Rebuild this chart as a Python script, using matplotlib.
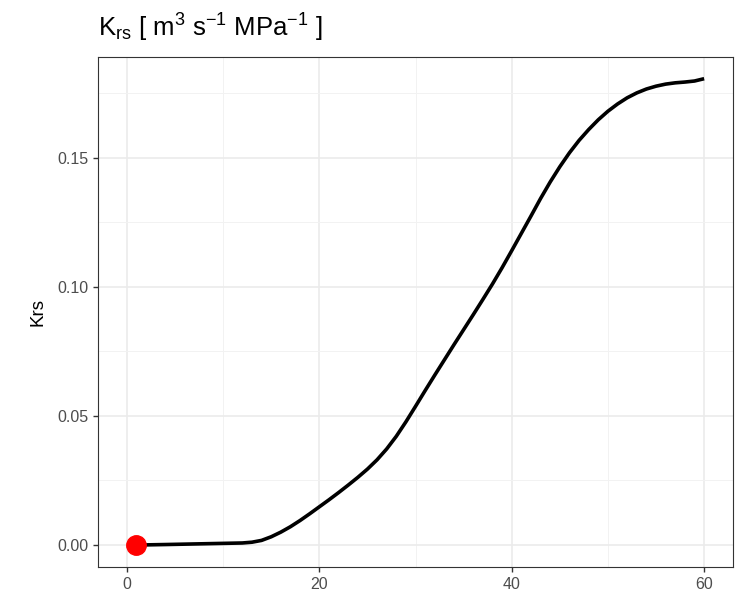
import matplotlib
matplotlib.use("Agg")
import matplotlib.pyplot as plt
from matplotlib.ticker import MultipleLocator

plt.rcParams['font.family'] = ['Liberation Sans', 'DejaVu Sans']
plt.rcParams['mathtext.fontset'] = 'custom'
plt.rcParams['mathtext.rm'] = 'Liberation Sans'
plt.rcParams['mathtext.it'] = 'Liberation Sans:italic'

# time (days) and root system conductance
time = [1, 4, 8, 12, 13, 14, 15, 16, 17, 18, 19, 20, 21, 22, 23, 24, 25, 26,
        27, 28, 29, 30, 31, 32, 33, 34, 35, 36, 37, 38, 39, 40, 41, 42, 43,
        44, 45, 46, 47, 48, 49, 50, 51, 52, 53, 54, 55, 56, 57, 58, 59, 60]
krs = [0.0, 0.0002, 0.0005, 0.0008, 0.0011, 0.0018, 0.0032, 0.0050, 0.0071,
       0.0095, 0.0121, 0.0148, 0.0175, 0.0203, 0.0232, 0.0262, 0.0294,
       0.0330, 0.0372, 0.0421, 0.0477, 0.0537, 0.0598, 0.0658, 0.0717,
       0.0776, 0.0834, 0.0892, 0.0951, 0.1011, 0.1074, 0.1140, 0.1207,
       0.1274, 0.1342, 0.1406, 0.1465, 0.1519, 0.1567, 0.1609, 0.1647,
       0.1680, 0.1708, 0.1732, 0.1751, 0.1766, 0.1777, 0.1785, 0.1790,
       0.1793, 0.1797, 0.1806]
start_point = (time[0], krs[0])

fig = plt.figure(figsize=(7.45, 5.93), dpi=100)
ax = fig.add_axes([98 / 745, 1 - 567 / 593, (733 - 98) / 745, (567 - 57) / 593])

ax.plot(time, krs, color="black", linewidth=2.6, zorder=3,
        solid_capstyle="butt", solid_joinstyle="round")
ax.plot(*start_point, "o", color="red", markersize=14, zorder=4)

ax.set_xlim(-3, 63)
ax.set_ylim(-0.0085, 0.189)
ax.xaxis.set_major_locator(MultipleLocator(20))
ax.xaxis.set_minor_locator(MultipleLocator(10))
ax.yaxis.set_major_locator(MultipleLocator(0.05))
ax.yaxis.set_minor_locator(MultipleLocator(0.025))
ax.yaxis.set_major_formatter(plt.FuncFormatter(lambda v, p: f"{v:.2f}"))

ax.grid(which="major", color="#EBEBEB", linewidth=1.2, zorder=0)
ax.grid(which="minor", color="#F2F2F2", linewidth=0.7, zorder=0)
ax.set_axisbelow(True)
ax.tick_params(which="minor", length=0)
ax.tick_params(which="major", length=3.5, width=1, color="#333333",
               labelcolor="#4D4D4D", labelsize=11.5)
for s in ax.spines.values():
    s.set_color("#333333")
    s.set_linewidth(0.8)

ax.set_ylabel("Krs", fontsize=13.5, labelpad=8)
fig.text(98 / 745, 1 - 28 / 593,
         r"K$_{\mathrm{rs}}$ [ m$^{3}$ s$^{-1}$ MPa$^{-1}$ ]",
         fontsize=18.5, ha="left", va="center")

fig.savefig("out.png", dpi=100)
